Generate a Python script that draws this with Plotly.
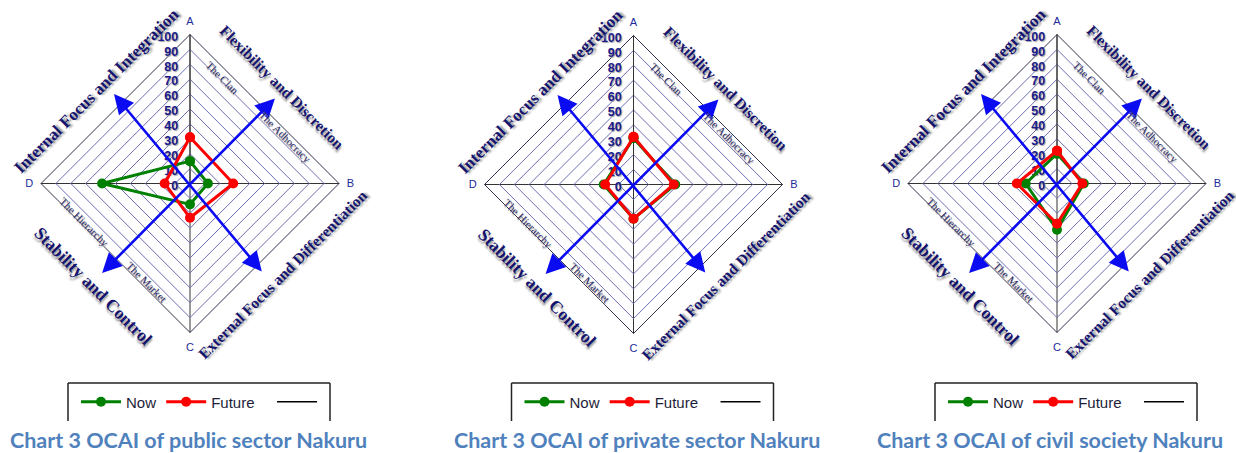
import plotly.graph_objects as go

# ---------------- data ----------------
categories = ["A", "B", "C", "D"]
radial_ticks = [0, 10, 20, 30, 40, 50, 60, 70, 80, 90, 100]
series_names = ["Now", "Future"]

now_public = [15, 12, 14, 59]
future_public = [31, 29, 23, 17]
now_private = [31, 28, 23, 20]
future_private = [32, 27, 23, 19]
now_civil = [20, 18, 31, 21]
future_civil = [22, 17, 27, 27]

chart_titles = [
    "Chart 3 OCAI of public sector Nakuru",
    "Chart 3 OCAI of private sector Nakuru",
    "Chart 3 OCAI of civil society Nakuru",
]
dimension_labels = [
    "Internal Focus and Integration",
    "Flexibility and Discretion",
    "Stability and Control",
    "External Focus and Differentiation",
]
quadrant_labels = ["The Clan", "The Adhocracy", "The Hierarchy", "The Market"]

panels = [
    (now_public, future_public),
    (now_private, future_private),
    (now_civil, future_civil),
]

# ---------------- layout / style ----------------
W, H = 1236, 453
R = 149.0                      # px radius of the 100 ring
S = R / 100.0                  # px per unit
centers = [(190, 183.5), (633.5, 184.5), (1057, 183.5)]
panel_edges = [0, 412, 845, 1236]

NOW_COLOR = "#008000"
FUT_COLOR = "#FF0000"
NAVY = "#14146E"
ARROW = "#0B0BF2"
NBSP = "\u00a0"

# label placement in radar units (relative to centre)
arrow_lines = [((-51, 60), (49, -60)), ((57, 57), (-60, -61))]
dim_pos = [(-62.5, 62.5), (62, 64.5), (-65, -69), (62, -61)]
dim_angle = [-45, 45, 45, -45]
dim_size = [17, 15.5, 17.5, 15.5]
quad_pos = [(22, 71), (64, 31), (-71, -26), (-29, -66)]

fig = go.Figure()
layout = dict(
    width=W, height=H,
    margin=dict(l=0, r=0, t=0, b=0),
    paper_bgcolor="white", plot_bgcolor="rgba(0,0,0,0)",
    showlegend=True,
    annotations=[], shapes=[],
)

for i, (now_vals, fut_vals) in enumerate(panels):
    n = "" if i == 0 else str(i + 1)
    cx, cy = centers[i]
    px0, px1 = panel_edges[i], panel_edges[i + 1]
    polar_name = "polar" + n
    legend_name = "legend" + n

    # cartesian overlay (hidden) in radar units
    layout["xaxis" + n] = dict(
        domain=[px0 / W, px1 / W], range=[(px0 - cx) / S, (px1 - cx) / S],
        visible=False, fixedrange=True, anchor="y" + n,
    )
    layout["yaxis" + n] = dict(
        domain=[0, 1], range=[-(H - cy) / S, cy / S],
        visible=False, fixedrange=True, anchor="x" + n,
    )

    layout[polar_name] = dict(
        domain=dict(x=[(cx - R) / W, (cx + R) / W], y=[(H - cy - R) / H, (H - cy + R) / H]),
        gridshape="linear",
        bgcolor="rgba(0,0,0,0)",
        radialaxis=dict(
            range=[0, 100], tickvals=radial_ticks, angle=90, side="counterclockwise",
            showline=True, linecolor="#333333", linewidth=1,
            gridcolor="#6E6EB2", gridwidth=1, ticks="",
            tickfont=dict(family="Arial", size=12.5, color="#1A1A8A", weight="bold",
                          shadow="1px 1px 1px #A0A0A0"),
            layer="below traces",
        ),
        angularaxis=dict(
            type="category", categoryarray=categories, rotation=90, direction="clockwise",
            showline=True, linecolor="#33334D", linewidth=1,
            gridcolor="#333333", gridwidth=1,
            ticks="outside", ticklen=5, tickcolor="rgba(0,0,0,0)",
            tickfont=dict(family="Arial", size=11, color="#1C2A9A"),
            layer="below traces",
        ),
    )

    legend_texts = [series_names[0], series_names[1] + NBSP * 3]
    for name, vals, col in ((legend_texts[0], now_vals, NOW_COLOR), (legend_texts[1], fut_vals, FUT_COLOR)):
        fig.add_trace(go.Scatterpolar(
            r=vals + vals[:1], theta=categories + categories[:1],
            mode="lines+markers", name=name, subplot=polar_name, legend=legend_name,
            line=dict(color=col, width=3), marker=dict(color=col, size=10),
            hoverinfo="skip",
        ))
    fig.add_trace(go.Scatterpolar(
        r=[None], theta=[categories[0]], mode="lines", name=" ",
        subplot=polar_name, legend=legend_name,
        line=dict(color="#000000", width=1.5), hoverinfo="skip",
    ))

    layout[legend_name] = dict(
        orientation="h", x=(cx - 114) / W, y=1 - 402 / H, xanchor="left", yanchor="middle",
        font=dict(family="Arial", size=15, color="#1E1E3A"),
        bgcolor="rgba(0,0,0,0)", borderwidth=0, itemwidth=40,
    )

    # three-sided legend frame
    bx0, bx1, by0, by1 = cx - 122, cx + 140, 383, 421
    for (xa, ya, xb, yb) in ((bx0, by1, bx0, by0), (bx0, by0, bx1, by0), (bx1, by0, bx1, by1)):
        layout["shapes"].append(dict(
            type="line", xref="paper", yref="paper",
            x0=xa / W, y0=1 - ya / H, x1=xb / W, y1=1 - yb / H,
            line=dict(color="#222222", width=1.5),
        ))

    xr, yr = "x" + n, "y" + n
    # double-headed blue arrows
    for (p, q) in arrow_lines:
        layout["annotations"].append(dict(
            xref=xr, yref=yr, axref=xr, ayref=yr,
            x=p[0], y=p[1], ax=q[0], ay=q[1], text="",
            showarrow=True, arrowside="end+start", arrowhead=2, arrowsize=1.5,
            arrowwidth=2.6, arrowcolor=ARROW, standoff=0, startstandoff=0,
        ))
    # dimension labels
    for lab, (lx, ly), ang, sz in zip(dimension_labels, dim_pos, dim_angle, dim_size):
        layout["annotations"].append(dict(
            xref=xr, yref=yr, x=lx, y=ly, text=lab, showarrow=False, textangle=ang,
            font=dict(family="Liberation Serif", size=sz, color=NAVY, weight="bold",
                      shadow="2px 2px 2px #9A9A9A"),
        ))
    # quadrant labels
    for lab, (lx, ly) in zip(quadrant_labels, quad_pos):
        layout["annotations"].append(dict(
            xref=xr, yref=yr, x=lx, y=ly, text=lab, showarrow=False, textangle=45,
            font=dict(family="Liberation Serif", size=11, color="#2A2A66",
                      shadow="1px 1px 1px #B0B0B0"),
        ))
    # chart caption
    layout["annotations"].append(dict(
        xref="paper", yref="paper", x=(cx - 182) / W, y=1 - 440 / H,
        xanchor="left", yanchor="middle", text="<b>" + chart_titles[i] + "</b>",
        showarrow=False, font=dict(family="Lato", size=21.5, color="#4F81BD"),
    ))

fig.update_layout(**layout)
fig.write_html("out.html", config={"displayModeBar": False},
               post_script="document.body.style.margin='0px';")
